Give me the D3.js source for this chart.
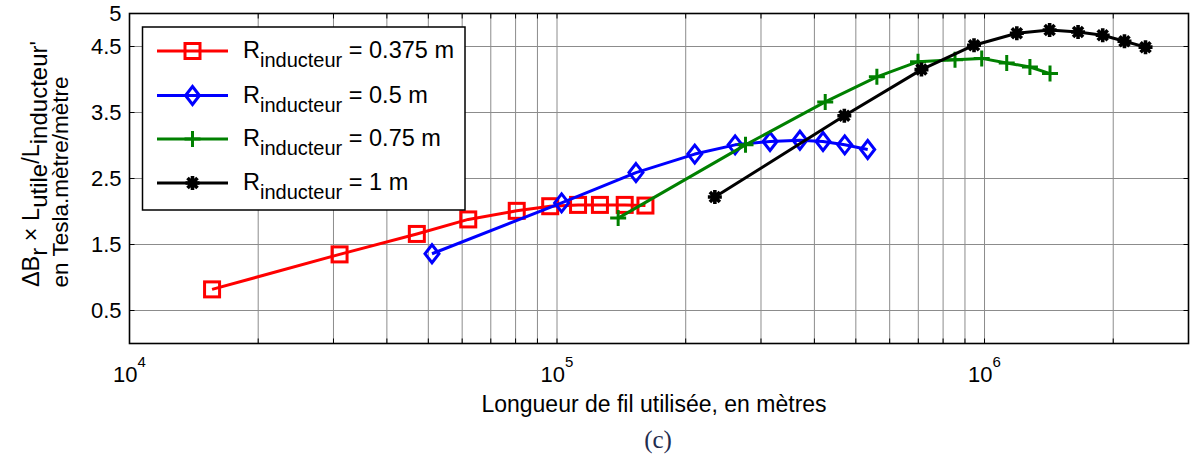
<!DOCTYPE html>
<html>
<head>
<meta charset="utf-8">
<script src="https://cdn.jsdelivr.net/npm/d3@7"></script>
<style>
  html, body { margin: 0; padding: 0; background: #fff; }
  svg { display: block; }
  text { font-family: "Liberation Sans", Arial, Helvetica, sans-serif; fill: #000; }
</style>
</head>
<body>
<svg id="chart" width="1192" height="457"></svg>
<script>
// ---------------- data ----------------
const seriesNames = ["0.375 m", "0.5 m", "0.75 m", "1 m"];
const seriesColors = ["#ff0000", "#0000ff", "#008000", "#000000"];
const seriesMarkers = ["square", "diamond", "plus", "star"];

const redX   = [15600, 31000, 47000, 62000, 80500, 96400, 112000, 126000, 144000, 161000];
const redY   = [0.82, 1.35, 1.66, 1.88, 2.01, 2.08, 2.10, 2.10, 2.10, 2.09];
const blueX  = [51000, 102500, 153000, 210000, 261000, 315000, 370000, 419000, 471000, 533000];
const blueY  = [1.36, 2.13, 2.59, 2.87, 3.01, 3.06, 3.08, 3.06, 3.01, 2.94];
const greenX = [139000, 276000, 424000, 560000, 699000, 853000, 985000, 1127000, 1277000, 1423000];
const greenY = [1.90, 3.01, 3.66, 4.04, 4.27, 4.30, 4.32, 4.25, 4.19, 4.09];
const blackX = [234000, 470000, 712000, 945000, 1190000, 1420000, 1655000, 1890000, 2125000, 2380000];
const blackY = [2.22, 3.45, 4.15, 4.52, 4.70, 4.75, 4.72, 4.67, 4.58, 4.49];

const xDomain = [1e4, 3e6];
const yDomain = [0, 5];
const xTickExponents = [4, 5, 6];
const yTickValues = [0.5, 1.5, 2.5, 3.5, 4.5, 5];
const yGridValues = [0.5, 1.5, 2.5, 3.5, 4.5];

const xLabel = "Longueur de fil utilisée, en mètres";
const captionText = "(c)";

// ---------------- layout ----------------
const svg = d3.select("#chart");
const L = 129.5, R = 1188.5, T = 13.5, B = 343.5;
const x = d3.scaleLog().domain(xDomain).range([L, R]);
const y = d3.scaleLinear().domain(yDomain).range([B, T]);

const FS = 22;

// minor x grid values
const xGridValues = [];
for (let e = 4; e <= 6; e++) {
  for (let m = 1; m <= 9; m++) {
    const v = m * Math.pow(10, e);
    if (v > xDomain[0] && v < xDomain[1]) xGridValues.push(v);
  }
}

const g = svg.append("g");

// grid
g.append("g").selectAll("line").data(xGridValues).join("line")
  .attr("x1", d => x(d)).attr("x2", d => x(d))
  .attr("y1", T).attr("y2", B)
  .attr("stroke", "#8c8c8c").attr("stroke-width", 1);
g.append("g").selectAll("line").data(yGridValues).join("line")
  .attr("x1", L).attr("x2", R)
  .attr("y1", d => y(d)).attr("y2", d => y(d))
  .attr("stroke", "#8c8c8c").attr("stroke-width", 1);

// tick marks (inward)
const tickLen = 5;
const xTickAll = xGridValues.concat([xDomain[0]]);
g.append("g").selectAll("line").data(xTickAll).join("line")
  .attr("x1", d => x(d)).attr("x2", d => x(d))
  .attr("y1", B).attr("y2", B - tickLen)
  .attr("stroke", "#000").attr("stroke-width", 1);
g.append("g").selectAll("line").data(xTickAll).join("line")
  .attr("x1", d => x(d)).attr("x2", d => x(d))
  .attr("y1", T).attr("y2", T + tickLen)
  .attr("stroke", "#000").attr("stroke-width", 1);
g.append("g").selectAll("line").data(yGridValues).join("line")
  .attr("x1", L).attr("x2", L + tickLen)
  .attr("y1", d => y(d)).attr("y2", d => y(d))
  .attr("stroke", "#000").attr("stroke-width", 1);
g.append("g").selectAll("line").data(yGridValues).join("line")
  .attr("x1", R).attr("x2", R - tickLen)
  .attr("y1", d => y(d)).attr("y2", d => y(d))
  .attr("stroke", "#000").attr("stroke-width", 1);

// axes box
g.append("rect").attr("x", L).attr("y", T).attr("width", R - L).attr("height", B - T)
  .attr("fill", "none").attr("stroke", "#000").attr("stroke-width", 1.6);

// y tick labels
g.append("g").selectAll("text").data(yTickValues).join("text")
  .attr("x", L - 8).attr("y", d => y(d)).attr("dy", "0.36em")
  .attr("text-anchor", "end").attr("font-size", FS)
  .text(d => d3.format("")(d));

// x tick labels 10^n
const xt = g.append("g").selectAll("text").data(xTickExponents).join("text")
  .attr("x", d => x(Math.pow(10, d))).attr("y", 382)
  .attr("text-anchor", "middle").attr("font-size", FS);
xt.append("tspan").text("10");
xt.append("tspan").attr("font-size", 15).attr("dy", -15).text(d => d);

// x label
g.append("text").attr("x", 654).attr("y", 412).attr("text-anchor", "middle")
  .attr("font-size", 23).text(xLabel);

// caption
g.append("text").attr("x", 658).attr("y", 448).attr("text-anchor", "middle")
  .style("font-family", "'Liberation Serif', 'Times New Roman', serif")
  .style("fill", "#1f2d4f").attr("font-size", 25).text(captionText);

// y label (two lines, rotated)
const yl1 = g.append("text").attr("transform", "translate(39,164) rotate(-90)")
  .attr("text-anchor", "middle").attr("font-size", 23.5);
const parts1 = [
  { t: "\u0394B", sub: false }, { t: "r", sub: true },
  { t: " \u00d7 L", sub: false }, { t: "utile", sub: true },
  { t: "/L", sub: false }, { t: "inducteur'", sub: true }
];
let prevSub = false;
parts1.forEach(p => {
  const ts = yl1.append("tspan").text(p.t);
  if (p.sub) { ts.attr("font-size", 24); if (!prevSub) ts.attr("dy", 8); }
  else if (prevSub) ts.attr("dy", -8);
  prevSub = p.sub;
});
g.append("text").attr("transform", "translate(68,182) rotate(-90)")
  .attr("text-anchor", "middle").attr("font-size", 22.5).text("en Tesla.m\u00e8tre/m\u00e8tre");

// ---------------- markers ----------------
function drawMarker(sel, type, color) {
  if (type === "square") {
    sel.append("rect").attr("x", -7.5).attr("y", -7.5).attr("width", 15).attr("height", 15)
      .attr("fill", "none").attr("stroke", color).attr("stroke-width", 3);
  } else if (type === "diamond") {
    sel.append("path").attr("d", "M0,-9L7,0L0,9L-7,0Z")
      .attr("fill", "none").attr("stroke", color).attr("stroke-width", 3);
  } else if (type === "plus") {
    sel.append("path").attr("d", "M-8,0H8M0,-8V8")
      .attr("fill", "none").attr("stroke", color).attr("stroke-width", 3);
  } else if (type === "star") {
    sel.append("path").attr("d", "M-7,0H7M0,-7V7M-5,-5L5,5M-5,5L5,-5")
      .attr("fill", "none").attr("stroke", color).attr("stroke-width", 3.6);
    sel.append("path").attr("d", "M0,-5L5,0L0,5L-5,0Z").attr("fill", color);
  }
}

const allX = [redX, blueX, greenX, blackX];
const allY = [redY, blueY, greenY, blackY];
const line = d3.line().x(d => x(d[0])).y(d => y(d[1]));

seriesNames.forEach((name, i) => {
  const pts = allX[i].map((v, j) => [v, allY[i][j]]);
  const sg = g.append("g");
  sg.append("path").attr("d", line(pts)).attr("fill", "none")
    .attr("stroke", seriesColors[i]).attr("stroke-width", 3).attr("stroke-linejoin", "round");
  sg.selectAll("g.m").data(pts).join("g").attr("class", "m")
    .attr("transform", d => `translate(${x(d[0])},${y(d[1])})`)
    .each(function () { drawMarker(d3.select(this), seriesMarkers[i], seriesColors[i]); });
});

// ---------------- legend ----------------
const lg = g.append("g");
lg.append("rect").attr("x", 142.5).attr("y", 27).attr("width", 322.5).attr("height", 183)
  .attr("fill", "#fff").attr("stroke", "#000").attr("stroke-width", 1.5);
const rowY = [51, 95.5, 139, 183];
seriesNames.forEach((name, i) => {
  const ry = rowY[i];
  lg.append("line").attr("x1", 157).attr("x2", 228).attr("y1", ry).attr("y2", ry)
    .attr("stroke", seriesColors[i]).attr("stroke-width", 3);
  const mg = lg.append("g").attr("transform", `translate(192.5,${ry})`);
  drawMarker(mg, seriesMarkers[i], seriesColors[i]);
  const t = lg.append("text").attr("x", 243).attr("y", ry + 7).attr("font-size", 23.5);
  t.append("tspan").text("R");
  t.append("tspan").attr("font-size", 20).attr("dy", 9).text("inducteur");
  t.append("tspan").attr("dy", -9).text(" = " + name);
});
</script>
</body>
</html>
